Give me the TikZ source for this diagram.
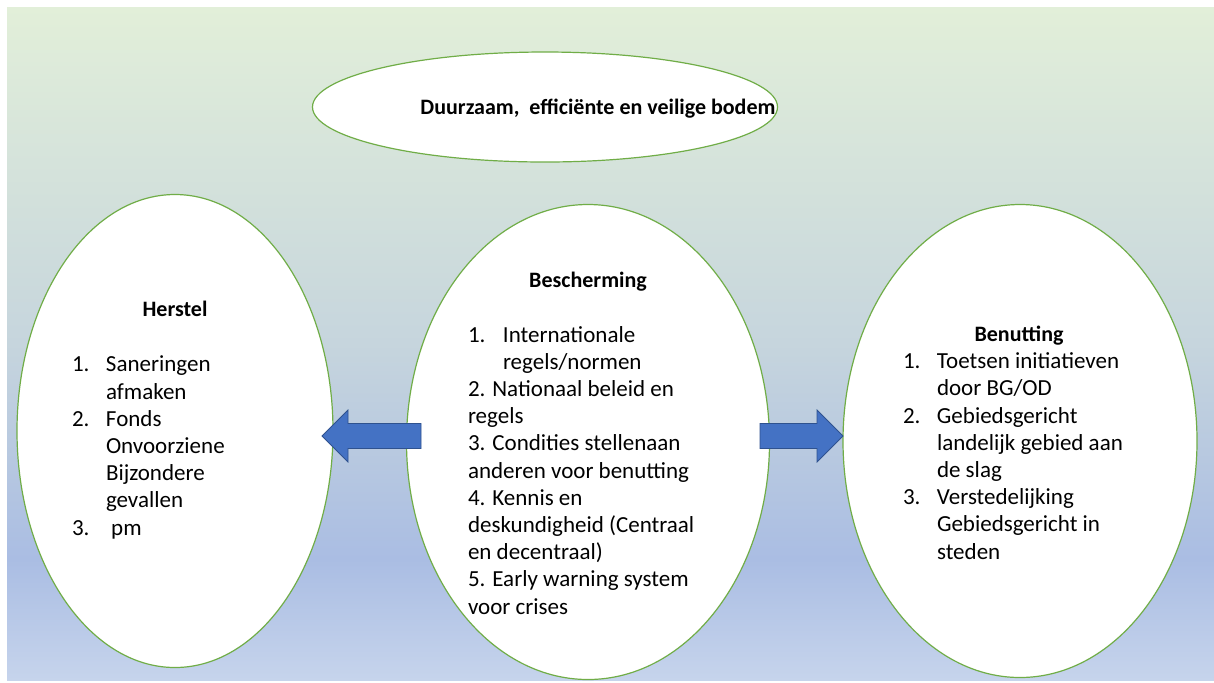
\documentclass[tikz,border=0pt]{standalone}
\usepackage{fontspec}
\setmainfont{Carlito}
\usetikzlibrary{calc,shapes.geometric}
\definecolor{bgtop}{RGB}{226,239,217}
\definecolor{bgmid}{RGB}{198,213,221}
\definecolor{bgblue}{RGB}{170,189,227}
\definecolor{bgbot}{RGB}{198,212,236}
\definecolor{rimgreen}{RGB}{112,173,71}
\definecolor{arrowblue}{RGB}{68,114,196}
\definecolor{arrowrim}{RGB}{47,82,143}
\pgfdeclareverticalshading{bodemback}{100bp}{color(0bp)=(bgbot); color(25bp)=(bgbot); color(34bp)=(bgblue); color(50bp)=(bgmid); color(75bp)=(bgtop); color(100bp)=(bgtop)}
\newcommand{\nr}[1]{\makebox[17pt][l]{#1}}
\newcommand{\blockarrow}[2]{
    \coordinate (hb) at ($(#2)!13pt!(#1)$);
    \draw[arrowblock] ($(#1)!6.25pt!90:(#2)$) -- ($(hb)!6.25pt!90:(#2)$)
        -- ($(hb)!13pt!90:(#2)$) -- (#2) -- ($(hb)!13pt!-90:(#2)$)
        -- ($(hb)!6.25pt!-90:(#2)$) -- ($(#1)!6.25pt!-90:(#2)$) -- cycle;
}

\begin{document}
\begin{tikzpicture}[x=0.5pt,y=-0.5pt,every node/.style={inner sep=0pt,outer sep=0pt},
    font=\fontsize{11.5}{13.6}\selectfont]

\tikzstyle{pillar}=[ellipse,draw=rimgreen,line width=0.6pt,fill=white]
\tikzstyle{heading}=[anchor=base,font=\fontsize{11}{13.6}\selectfont\bfseries]
% lists are placed at the baseline of their last line
\tikzstyle{lijst}=[anchor=base west,align=left]
\tikzstyle{arrowblock}=[fill=arrowblue,draw=arrowrim,line width=0.4pt,line join=miter]

\useasboundingbox (0,0) rectangle (1214,682);
\shade[shading=bodemback] (7,7) rectangle (1214,680);

\node (doel) [pillar,minimum width=232.5pt,minimum height=55pt] at (545,107) {};
\node (herstel) [pillar,minimum width=158pt,minimum height=236.5pt] at (175,431) {};
\node (bescherming) [pillar,minimum width=181.5pt,minimum height=237.5pt] at (588,442) {};
\node (benutting) [pillar,minimum width=177pt,minimum height=236.5pt] at (1020,441) {};

% arrows
\coordinate (linksstart) at (421,436);
\coordinate (linkspunt) at (322,436);
\coordinate (rechtsstart) at (760,436);
\coordinate (rechtspunt) at (843,436);
\blockarrow{linksstart}{linkspunt}
\blockarrow{rechtsstart}{rechtspunt}

\node (doeltitel) [heading] at (598,114) {Duurzaam,\ \ efficiënte en veilige bodem};

\node (hersteltitel) [heading] at (175,316) {Herstel};
\node (herstellijst) [lijst] at (72,535) {\nr{1.}Saneringen\\\nr{}afmaken\\\nr{2.}Fonds\\\nr{}Onvoorziene\\\nr{}Bijzondere\\\nr{}gevallen\\\nr{3.}\ pm};

\node (beschermingtitel) [heading] at (588,287) {Bescherming};
\node (beschermingslijst) [lijst] at (468,614) {\makebox[17.5pt][l]{1.}Internationale\\\makebox[17.5pt][l]{}regels/normen\\2. Nationaal beleid en\\regels\\3. Condities stellenaan\\anderen voor benutting\\4. Kennis en\\deskundigheid (Centraal\\en decentraal)\\5. Early warning system\\voor crises};

\node (benuttingtitel) [heading] at (1019,341) {Benutting};
\node (benuttingslijst) [lijst] at (903,559) {\nr{1.}Toetsen initiatieven\\\nr{}door BG/OD\\\nr{2.}Gebiedsgericht\\\nr{}landelijk gebied aan\\\nr{}de slag\\\nr{3.}Verstedelijking\\\nr{}Gebiedsgericht in\\\nr{}steden};
\end{tikzpicture}
\end{document}
